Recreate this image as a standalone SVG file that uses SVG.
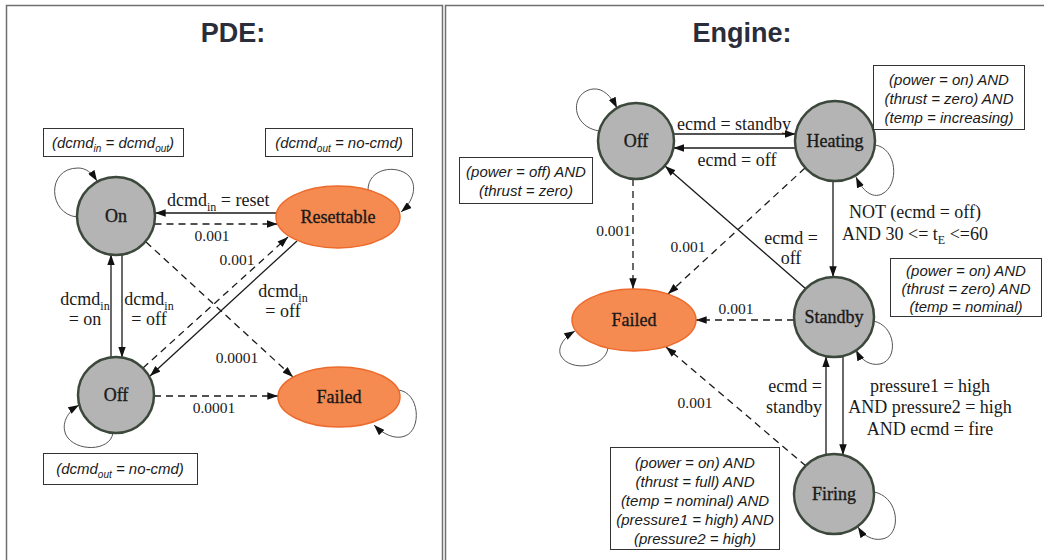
<svg xmlns="http://www.w3.org/2000/svg" width="1044" height="560" viewBox="0 0 1044 560">
  <defs>
    <marker id="arrow" viewBox="0 0 10 7" refX="10" refY="3.5" markerWidth="11" markerHeight="7.5" markerUnits="userSpaceOnUse" orient="auto">
      <path d="M0,0 L10,3.5 L0,7 z" fill="#111"/>
    </marker>
    <style>
      .panel { fill: none; stroke: #6f6f6f; stroke-width: 1.5; }
      .title { font-family: "Liberation Sans", Arial, sans-serif; font-weight: bold; font-size: 27px; fill: #2a2d3a; text-anchor: middle; }
      .state { fill: #b4b4b4; stroke: #3b483b; stroke-width: 2.5; }
      .fail { fill: #f68b52; stroke: #ec6a2c; stroke-width: 1.5; }
      .name { font-family: "Liberation Serif", "Times New Roman", serif; font-size: 18px; fill: #1a1a1a; stroke: #1a1a1a; stroke-width: 0.35; text-anchor: middle; }
      .lbl { font-family: "Liberation Serif", "Times New Roman", serif; font-size: 18px; fill: #1a1a1a; }
      .num { font-family: "Liberation Serif", "Times New Roman", serif; font-size: 15.5px; fill: #1a1a1a; }
      .mid { text-anchor: middle; }
      .end { text-anchor: end; }
      .edge { fill: none; stroke: #1a1a1a; stroke-width: 1.3; marker-end: url(#arrow); }
      .dash { stroke-dasharray: 7 5; }
      .loop { fill: none; stroke: #555; stroke-width: 1; marker-end: url(#arrow); }
      .note { fill: #fff; stroke: #333; stroke-width: 1; }
      .nt { font-family: "Liberation Sans", Arial, sans-serif; font-style: italic; font-size: 15px; fill: #1a1a1a; text-anchor: middle; }
    </style>
  </defs>

  <rect width="1044" height="560" fill="#fff"/>

  <!-- panel frames -->
  <path class="panel" d="M6.5,570 V5.5 H442.5 V570"/>
  <path class="panel" d="M445.5,570 V5.5 H1050"/>

  <text class="title" x="233" y="42">PDE:</text>
  <text class="title" x="742" y="42">Engine:</text>

  <!-- ===== PDE state machine ===== -->
  <g id="pde-connectors">
    <path class="loop" d="M77,217 C48,214 46,168 78,168 C86,168 92,173 97,181"/>
    <path class="loop" d="M368,190 C368,168 397,164 409,176 C418,186 413,202 401,212"/>
    <path class="loop" d="M113,433 C110,452 75,452 66,435 C61,424 67,412 79,405"/>
    <path class="loop" d="M398,390 C420,392 422,430 405,436 C395,440 383,434 374,425"/>

    <path class="edge" d="M276.5,213 H155"/>
    <path class="edge dash" d="M154.5,224 H277.5"/>
    <path class="edge" d="M122,254.5 V357.5"/>
    <path class="edge" d="M111,357.5 V254.5"/>
    <path class="edge dash" d="M143,368 L288,237"/>
    <path class="edge" d="M297,241 L150,376"/>
    <path class="edge dash" d="M146,242 L293,377"/>
    <path class="edge dash" d="M154,396 H278"/>
  </g>

  <g id="pde-labels">
    <text class="lbl" x="167" y="206">dcmd<tspan font-size="12" dy="5">in</tspan><tspan dy="-5"> = reset</tspan></text>
    <text class="num mid" x="212" y="241">0.001</text>
    <text class="num mid" x="237" y="265">0.001</text>
    <text class="lbl mid" x="283" y="297">dcmd<tspan font-size="12" dy="5">in</tspan></text>
    <text class="lbl mid" x="283" y="317">= off</text>
    <text class="lbl mid" x="85" y="305">dcmd<tspan font-size="12" dy="5">in</tspan></text>
    <text class="lbl mid" x="85" y="325">= on</text>
    <text class="lbl mid" x="149" y="305">dcmd<tspan font-size="12" dy="5">in</tspan></text>
    <text class="lbl mid" x="149" y="325">= off</text>
    <text class="num mid" x="237" y="363">0.0001</text>
    <text class="num mid" x="214" y="413">0.0001</text>
  </g>

  <g id="pde-on">
    <circle class="state" cx="116" cy="216" r="39"/>
    <text class="name" x="116" y="222">On</text>
  </g>
  <g id="pde-resettable">
    <ellipse class="fail" cx="338" cy="217" rx="62" ry="31"/>
    <text class="name" x="338" y="223">Resettable</text>
  </g>
  <g id="pde-off">
    <circle class="state" cx="116" cy="395" r="38"/>
    <text class="name" x="116" y="401">Off</text>
  </g>
  <g id="pde-failed">
    <ellipse class="fail" cx="339" cy="397" rx="61" ry="30"/>
    <text class="name" x="339" y="403">Failed</text>
  </g>

  <g id="pde-note-on">
    <rect class="note" x="43.5" y="128.5" width="140" height="28"/>
    <text class="nt" x="113" y="148">(dcmd<tspan font-size="10" dy="4">in</tspan><tspan dy="-4"> = dcmd</tspan><tspan font-size="10" dy="4">out</tspan><tspan dy="-4">)</tspan></text>
  </g>
  <g id="pde-note-resettable">
    <rect class="note" x="265.5" y="128.5" width="147" height="28"/>
    <text class="nt" x="339" y="148">(dcmd<tspan font-size="10" dy="4">out</tspan><tspan dy="-4"> = no-cmd)</tspan></text>
  </g>
  <g id="pde-note-off">
    <rect class="note" x="43.5" y="453.5" width="154" height="31"/>
    <text class="nt" x="120" y="474">(dcmd<tspan font-size="10" dy="4">out</tspan><tspan dy="-4"> = no-cmd)</tspan></text>
  </g>

  <!-- ===== Engine state machine ===== -->
  <g id="engine-connectors">
    <path class="loop" d="M599,131 C570,126 570,92 593,89 C603,88 611,96 617,108"/>
    <path class="loop" d="M875,145 C897,148 900,185 882,194 C872,199 862,190 856,177"/>
    <path class="loop" d="M608,348 C605,368 570,372 561,356 C557,348 563,338 575,331"/>
    <path class="loop" d="M873,321 C896,325 899,360 880,364 C870,366 861,360 856,350"/>
    <path class="loop" d="M874,492 C900,497 902,536 882,539 C872,541 863,535 858,527"/>

    <path class="edge" d="M673.3,134 H795.6"/>
    <path class="edge" d="M795.6,148 H673.3"/>
    <path class="edge dash" d="M633,179 V289"/>
    <path class="edge dash" d="M805,168 L668,294"/>
    <path class="edge" d="M806,289 L665,166"/>
    <path class="edge" d="M833,181 V277"/>
    <path class="edge dash" d="M794,320 H696"/>
    <path class="edge" d="M826,455 V356.5"/>
    <path class="edge" d="M843,356 V455"/>
    <path class="edge dash" d="M806,466 L666,347"/>
  </g>

  <g id="engine-labels">
    <text class="lbl mid" x="734" y="130">ecmd = standby</text>
    <text class="lbl mid" x="737" y="166">ecmd = off</text>
    <text class="num end" x="631" y="236">0.001</text>
    <text class="num mid" x="688" y="252">0.001</text>
    <text class="lbl mid" x="791" y="244">ecmd =</text>
    <text class="lbl mid" x="791" y="264">off</text>
    <text class="lbl mid" x="915" y="218">NOT (ecmd = off)</text>
    <text class="lbl mid" x="915" y="240">AND 30 &lt;= t<tspan font-size="12" dy="4">E</tspan><tspan dy="-4"> &lt;=60</tspan></text>
    <text class="num mid" x="736" y="314">0.001</text>
    <text class="lbl end" x="822" y="392">ecmd =</text>
    <text class="lbl end" x="822" y="413">standby</text>
    <text class="lbl mid" x="930" y="392">pressure1 = high</text>
    <text class="lbl mid" x="930" y="413">AND pressure2 = high</text>
    <text class="lbl mid" x="930" y="435">AND ecmd = fire</text>
    <text class="num mid" x="695" y="408">0.001</text>
  </g>

  <g id="engine-off">
    <circle class="state" cx="636" cy="141" r="38"/>
    <text class="name" x="636" y="147">Off</text>
  </g>
  <g id="engine-heating">
    <circle class="state" cx="835" cy="141" r="40"/>
    <text class="name" x="835" y="147">Heating</text>
  </g>
  <g id="engine-failed">
    <ellipse class="fail" cx="634" cy="320" rx="62" ry="31"/>
    <text class="name" x="634" y="326">Failed</text>
  </g>
  <g id="engine-standby">
    <circle class="state" cx="834" cy="317" r="40"/>
    <text class="name" x="834" y="323">Standby</text>
  </g>
  <g id="engine-firing">
    <circle class="state" cx="834" cy="494" r="40"/>
    <text class="name" x="834" y="500">Firing</text>
  </g>

  <g id="engine-note-off">
    <rect class="note" x="459.5" y="157.5" width="133" height="46"/>
    <text class="nt" x="526" y="177">(power = off) AND</text>
    <text class="nt" x="526" y="196">(thrust = zero)</text>
  </g>
  <g id="engine-note-heating">
    <rect class="note" x="873.5" y="65.5" width="151" height="64"/>
    <text class="nt" x="949" y="85">(power = on) AND</text>
    <text class="nt" x="949" y="104">(thrust = zero) AND</text>
    <text class="nt" x="949" y="123">(temp =  increasing)</text>
  </g>
  <g id="engine-note-standby">
    <rect class="note" x="890.5" y="258.5" width="151" height="58"/>
    <text class="nt" x="966" y="276">(power = on) AND</text>
    <text class="nt" x="966" y="294">(thrust = zero) AND</text>
    <text class="nt" x="966" y="312">(temp = nominal)</text>
  </g>
  <g id="engine-note-firing">
    <rect class="note" x="610.5" y="447.5" width="169" height="102"/>
    <text class="nt" x="695" y="468">(power = on) AND</text>
    <text class="nt" x="695" y="487">(thrust = full) AND</text>
    <text class="nt" x="695" y="506">(temp = nominal) AND</text>
    <text class="nt" x="695" y="525">(pressure1 = high) AND</text>
    <text class="nt" x="695" y="544">(pressure2 = high)</text>
  </g>
</svg>
